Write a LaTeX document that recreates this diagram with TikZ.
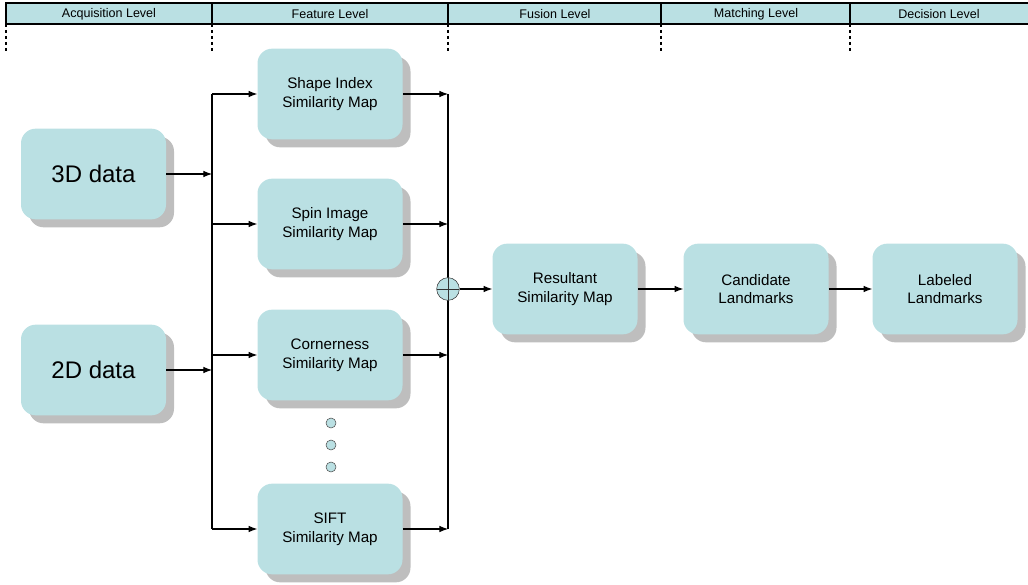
\documentclass[tikz,border=0pt]{standalone}
\usepackage{fontspec}
\setmainfont{Liberation Sans}
\usetikzlibrary{arrows.meta,shadows}
\definecolor{boxblue}{RGB}{186,224,227}
\definecolor{shadowgray}{RGB}{190,190,190}
\begin{document}
\begin{tikzpicture}[x=0.75pt,y=-0.75pt,
  simbox/.style={rounded corners=11pt, fill=boxblue, minimum width=108.75pt,
    minimum height=68pt, align=center, font=\fontsize{11.4}{14}\selectfont,
    drop shadow={shadow xshift=6pt, shadow yshift=-6pt, fill=shadowgray, opacity=1}},
  databox/.style={simbox, font=\fontsize{18}{20}\selectfont},
  flow/.style={-{Latex[length=6.5pt,width=5pt]}, line width=0.8pt},
  bus/.style={line width=0.8pt},
  lvl/.style={font=\fontsize{9.4}{10}\selectfont},
  sep/.style={line width=1pt, dash pattern=on 2pt off 2.5pt},
  dotnode/.style={circle, draw=black!70, fill=boxblue, inner sep=0pt, minimum size=7.5pt},
  oplus/.style={circle, draw=black!80, fill=boxblue, inner sep=0pt, minimum size=17pt,
    path picture={\draw (path picture bounding box.north) -- (path picture bounding box.south)
      (path picture bounding box.west) -- (path picture bounding box.east);}}]
\useasboundingbox (0,0) rectangle (1028,585);

% level header
\draw[fill=boxblue, line width=0.8pt] (6,3) rectangle (1032,24);
\foreach \x in {212,448,661,850}
  \draw[line width=0.8pt] (\x,3) -- (\x,24);
\foreach \x in {6,212,448,661,850}
  \draw[sep] (\x,24) -- (\x,53);
\node[lvl] (acq) at (109,14) {Acquisition Level};
\node[lvl] (feat) at (330,14) {Feature Level};
\node[lvl] (fus) at (555,14) {Fusion Level};
\node[lvl] (mat) at (756,14) {Matching Level};
\node[lvl] (dec) at (939,14) {Decision Level};

% inputs
\node[databox] (d3) at (93.5,174) {3D data};
\node[databox] (d2) at (93.5,370) {2D data};

% similarity maps
\node[simbox] (shp) at (330,94) {Shape Index\\Similarity Map};
\node[simbox] (spin) at (330,224) {Spin Image\\Similarity Map};
\node[simbox] (corn) at (330,355) {Cornerness\\Similarity Map};
\node[simbox] (sift) at (330,529) {SIFT\\Similarity Map};
\foreach \y/\n in {423/da,445/db,467/dc}
  \node[dotnode] (\n) at (331,\y) {};

\coordinate (lb) at (212,0);
\coordinate (rb) at (448,0);

% fan out
\draw[bus] (lb |- shp.west) -- (lb |- sift.west);
\draw[flow] (d3.east) -- (lb |- d3.east);
\draw[flow] (d2.east) -- (lb |- d2.east);
\foreach \n in {shp,spin,corn,sift}
  \draw[flow] (lb |- \n.west) -- (\n.west);

% fusion
\node[simbox] (res) at (565,289) {Resultant\\Similarity Map};
\node[simbox] (cand) at (756,289) {Candidate\\Landmarks};
\node[simbox] (lab) at (945,289) {Labeled\\Landmarks};
\draw[bus] (rb |- shp.east) -- (rb |- sift.east);
\foreach \n in {shp,spin,corn,sift}
  \draw[flow] (\n.east) -- (rb |- \n.east);
\node[oplus] (sum) at (rb |- res.west) {};
\draw[flow] (sum.east) -- (res.west);
\draw[flow] (res.east) -- (cand.west);
\draw[flow] (cand.east) -- (lab.west);
\end{tikzpicture}
\end{document}
